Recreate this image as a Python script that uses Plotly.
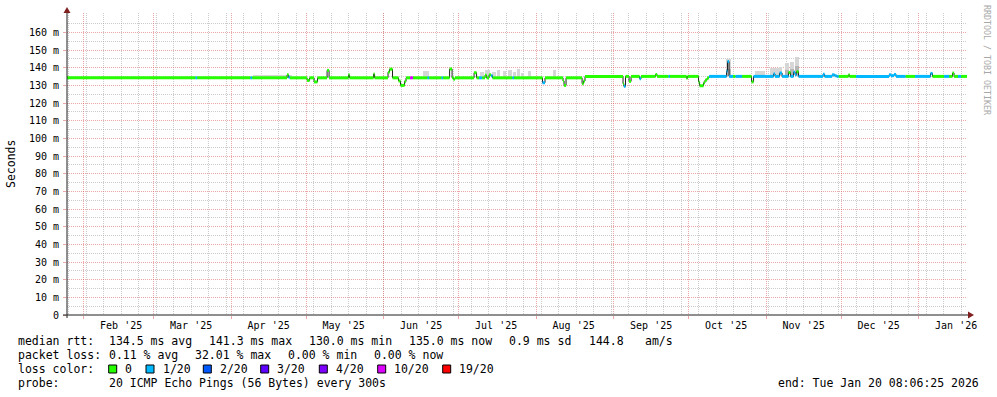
import pandas as pd
import plotly.graph_objects as go

# ---------------- data ----------------
START = "2025-01-25 08:06:25"
END = "2026-01-20 08:06:25"

# median rtt (ms) as step segments: start time, value, lost pings (of 20)
seg_start = [
    "2025-01-25 08:06", "2025-03-17 18:00", "2025-03-18 09:00", "2025-04-08 18:00", "2025-04-09 09:00",
    "2025-04-23 09:00", "2025-04-23 23:00", "2025-04-24 11:00", "2025-05-01 09:00", "2025-05-02 09:00",
    "2025-05-04 04:00", "2025-05-05 13:00", "2025-05-09 09:00", "2025-05-10 04:00", "2025-05-17 23:00",
    "2025-05-18 09:00", "2025-05-27 23:00", "2025-05-28 09:00", "2025-06-02 18:00", "2025-06-03 09:00",
    "2025-06-04 13:00", "2025-06-06 23:00", "2025-06-07 18:00", "2025-06-09 09:00", "2025-06-09 23:00",
    "2025-06-11 13:00", "2025-06-12 18:00", "2025-06-18 13:00", "2025-06-19 04:00", "2025-06-24 04:00",
    "2025-06-24 18:00", "2025-06-27 09:00", "2025-06-28 09:00", "2025-06-28 23:00", "2025-06-29 13:00",
    "2025-07-07 04:00", "2025-07-08 04:00", "2025-07-09 04:00", "2025-07-10 09:00", "2025-07-11 13:00",
    "2025-07-12 04:00", "2025-07-13 04:00", "2025-07-13 23:00", "2025-07-14 13:00", "2025-07-22 13:00",
    "2025-07-23 04:00", "2025-08-03 13:00", "2025-08-04 13:00", "2025-08-11 18:00", "2025-08-12 04:00",
    "2025-08-12 23:00", "2025-08-19 09:00", "2025-08-19 23:00", "2025-08-20 13:00", "2025-09-04 18:00",
    "2025-09-05 02:00", "2025-09-05 18:00", "2025-09-07 04:00", "2025-09-07 23:00", "2025-09-11 09:00",
    "2025-09-11 23:00", "2025-09-17 18:00", "2025-09-18 09:00", "2025-09-22 23:00", "2025-09-23 13:00",
    "2025-09-30 04:00", "2025-09-30 13:00", "2025-10-04 23:00", "2025-10-05 09:00", "2025-10-06 23:00",
    "2025-10-07 13:00", "2025-10-08 09:00", "2025-10-09 04:00", "2025-10-16 04:00", "2025-10-16 13:00",
    "2025-10-17 04:00", "2025-10-18 18:00", "2025-10-19 18:00", "2025-10-22 09:00", "2025-10-26 04:00",
    "2025-10-26 23:00", "2025-11-03 23:00", "2025-11-04 13:00", "2025-11-06 09:00", "2025-11-07 09:00",
    "2025-11-09 23:00", "2025-11-10 18:00", "2025-11-11 23:00", "2025-11-12 13:00", "2025-11-13 04:00",
    "2025-11-13 23:00", "2025-11-23 18:00", "2025-11-24 09:00", "2025-11-27 09:00", "2025-11-28 09:00",
    "2025-11-29 04:00", "2025-11-29 23:00", "2025-12-03 23:00", "2025-12-04 09:00", "2025-12-06 23:00",
    "2025-12-20 04:00", "2025-12-20 23:00", "2025-12-22 04:00", "2025-12-22 23:00", "2025-12-26 18:00",
    "2025-12-30 13:00", "2026-01-05 18:00", "2026-01-06 13:00", "2026-01-11 04:00", "2026-01-13 04:00",
    "2026-01-14 13:00", "2026-01-15 04:00", "2026-01-16 18:00", "2026-01-17 23:00",
]
seg_ms = [
    134.3, 134.3, 134.3, 134.3, 134.3,
    136.0, 134.6, 134.3, 132.8, 134.3,
    132.0, 134.3, 138.5, 134.3, 136.0,
    134.3, 136.5, 134.3, 137.5, 139.2,
    134.3, 132.5, 130.0, 132.3, 134.3,
    134.3, 134.3, 134.3, 134.3, 134.3,
    134.3, 139.3, 134.3, 133.5, 134.3,
    137.2, 134.3, 134.3, 134.3, 135.8,
    134.3, 136.0, 135.5, 134.3, 134.3,
    134.3, 131.5, 134.3, 132.5, 130.0,
    134.3, 131.0, 132.5, 135.1, 131.0,
    129.5, 135.1, 132.3, 135.1, 133.8,
    135.1, 136.2, 135.1, 135.1, 135.1,
    134.0, 135.1, 132.0, 129.8, 131.5,
    133.0, 134.2, 135.1, 138.0, 143.5,
    135.1, 135.1, 135.1, 135.1, 132.0,
    135.1, 136.5, 135.1, 137.0, 135.1,
    137.3, 135.1, 137.5, 136.0, 137.8,
    135.1, 136.3, 135.1, 136.0, 135.5,
    135.1, 135.1, 136.0, 135.1, 135.1,
    136.0, 135.5, 136.2, 135.1, 135.1,
    135.1, 136.8, 135.1, 135.1, 135.1,
    137.0, 135.1, 135.1, 135.1,
]
seg_loss = [
    0, 1, 0, 1, 0,
    0, 1, 0, 0, 0,
    0, 0, 0, 0, 0,
    0, 0, 0, 0, 0,
    0, 0, 0, 0, 0,
    10, 0, 1, 0, 1,
    0, 0, 0, 0, 0,
    0, 0, 1, 0, 0,
    0, 0, 1, 0, 1,
    0, 1, 0, 0, 0,
    0, 0, 0, 0, 0,
    1, 0, 0, 0, 1,
    0, 0, 0, 1, 0,
    0, 0, 0, 0, 0,
    0, 0, 1, 1, 1,
    1, 0, 1, 0, 0,
    1, 1, 1, 1, 1,
    0, 1, 1, 1, 0,
    1, 1, 1, 1, 1,
    1, 0, 0, 0, 1,
    1, 1, 1, 1, 0,
    1, 1, 0, 1, 0,
    0, 0, 1, 0,
]

# smoke (spread of the 20 pings): start, end, low ms, high ms, shade
smoke_start = [
    "2025-04-09 18:00", "2025-06-16 18:00", "2025-07-09 13:00", "2025-07-11 13:00", "2025-07-14 09:00",
    "2025-07-16 09:00", "2025-07-18 18:00", "2025-07-20 18:00", "2025-07-22 18:00", "2025-07-24 09:00",
    "2025-07-25 23:00", "2025-07-28 18:00", "2025-08-07 18:00", "2025-10-15 23:00", "2025-10-27 13:00",
    "2025-11-02 13:00", "2025-11-06 04:00", "2025-11-08 13:00", "2025-11-10 13:00", "2025-11-12 13:00",
    "2025-10-15 23:00", "2025-11-08 13:00", "2025-11-10 13:00", "2025-11-12 13:00",
]
smoke_end = [
    "2025-04-25 09:00", "2025-06-19 04:00", "2025-07-11 04:00", "2025-07-13 13:00", "2025-07-15 23:00",
    "2025-07-17 13:00", "2025-07-19 23:00", "2025-07-22 09:00", "2025-07-23 23:00", "2025-07-25 13:00",
    "2025-07-27 04:00", "2025-07-29 23:00", "2025-08-08 23:00", "2025-10-17 23:00", "2025-10-31 13:00",
    "2025-11-06 04:00", "2025-11-07 09:00", "2025-11-10 04:00", "2025-11-12 04:00", "2025-11-14 04:00",
    "2025-10-17 23:00", "2025-11-10 04:00", "2025-11-12 04:00", "2025-11-14 04:00",
]
smoke_lo = [
    134.3, 134.3, 134.3, 134.3, 134.3,
    134.3, 134.3, 134.3, 134.3, 134.3,
    134.3, 134.3, 134.3, 135.1, 135.1,
    135.1, 135.1, 135.1, 135.1, 135.1,
    135.1, 135.1, 135.1, 135.1,
]
smoke_hi = [
    135.7, 138.4, 137.5, 138.5, 137.8,
    139.0, 138.0, 139.0, 137.5, 139.2,
    137.0, 138.0, 138.5, 145.0, 138.2,
    140.0, 140.6, 142.5, 143.5, 146.0,
    139.5, 139.0, 139.5, 141.0,
]
smoke_shade = ["light"] * 20 + ["mid"] * 4

month_labels = ["Feb '25", "Mar '25", "Apr '25", "May '25", "Jun '25", "Jul '25",
                "Aug '25", "Sep '25", "Oct '25", "Nov '25", "Dec '25", "Jan '26"]
month_starts = ["2025-02-01", "2025-03-01", "2025-04-01", "2025-05-01", "2025-06-01", "2025-07-01",
                "2025-08-01", "2025-09-01", "2025-10-01", "2025-11-01", "2025-12-01", "2026-01-01"]
y_ticks = list(range(0, 170, 10))
y_ticktext = ["0"] + [f"{v} m" for v in y_ticks[1:]]

loss_levels = [0, 1, 2, 3, 4, 10, 19]
loss_names = ["0", "1/20", "2/20", "3/20", "4/20", "10/20", "19/20"]
loss_colors = ["#26ff00", "#00b8ff", "#0059ff", "#5e00ff", "#7e00ff", "#dd00ff", "#ff0000"]

legend_rows = [
    ("median rtt:", [(107.3, "134.5 ms avg"), (207.3, "141.3 ms max"), (306.7, "130.0 ms min"),
                     (407.3, "135.0 ms now"), (506.7, "0.9 ms sd"), (586.7, "144.8"), (642.7, "am/s")]),
    ("packet loss:", [(107.3, "0.11 % avg"), (193.3, "32.01 % max"), (286.0, "0.00 % min"),
                      (372.3, "0.00 % now")]),
    ("probe:", [(107.3, "20 ICMP Echo Pings (56 Bytes) every 300s")]),
]
end_text = "end: Tue Jan 20 08:06:25 2026"

# ---------------- geometry helpers ----------------
W, H = 997, 397
L, R, T, B = 67, 30, 13, 82
PW, PH = W - L - R, H - T - B


def px(x):
    return (x - L) / PW


def py(y):
    return (T + PH - y) / PH


MGRID = "rgba(222,79,79,0.5)"
GRID = "rgba(143,143,143,0.45)"
FONT = "DejaVu Sans Mono, monospace"

fig = go.Figure()

# smoke
shade_col = {"light": "#d6d6d6", "mid": "#b4b4b4"}
for shade in ["light", "mid"]:
    xs, ys, bs, ws = [], [], [], []
    for s, e, lo, hi, sh in zip(smoke_start, smoke_end, smoke_lo, smoke_hi, smoke_shade):
        if sh != shade:
            continue
        t0, t1 = pd.Timestamp(s), pd.Timestamp(e)
        xs.append(t0 + (t1 - t0) / 2)
        ws.append((t1 - t0).total_seconds() * 1000)
        bs.append(lo)
        ys.append(hi - lo)
    fig.add_trace(go.Bar(x=xs, y=ys, base=bs, width=ws, marker=dict(color=shade_col[shade], line=dict(width=0)),
                         showlegend=False, hoverinfo="skip"))

# black median line
bx = seg_start + [END]
by = seg_ms + [seg_ms[-1]]
fig.add_trace(go.Scatter(x=bx, y=by, mode="lines", line=dict(color="#202020", width=1, shape="hv"),
                         showlegend=False, hoverinfo="skip"))

# loss coloured band
ends = seg_start[1:] + [END]
for lvl, col in zip(loss_levels, loss_colors):
    xs, ys = [], []
    for s, e, v, lo in zip(seg_start, ends, seg_ms, seg_loss):
        if lo == lvl:
            xs += [s, e, None]
            ys += [v, v, None]
    if xs:
        fig.add_trace(go.Scatter(x=xs, y=ys, mode="lines", line=dict(color=col, width=3),
                                 showlegend=False, hoverinfo="skip", connectgaps=False))

# dummy trace for label axis
label_pos = [(pd.Timestamp(m) + pd.Timedelta(days=15)).strftime("%Y-%m-%d") for m in month_starts]
fig.add_trace(go.Scatter(x=[START, END], y=[None, None], xaxis="x2", showlegend=False, hoverinfo="skip"))

fig.update_layout(
    width=W, height=H,
    margin=dict(l=L, r=R, t=T, b=B, pad=0),
    paper_bgcolor="white", plot_bgcolor="white",
    barmode="overlay", bargap=0,
    showlegend=False,
    font=dict(family=FONT, size=10, color="black"),
    xaxis=dict(
        type="date", range=[START, END],
        tickvals=month_starts, ticktext=[""] * len(month_starts),
        showgrid=True, gridcolor=MGRID, griddash="1px,1px", gridwidth=1,
        ticks="outside", ticklen=3, tickcolor=MGRID,
        minor=dict(dtick=7 * 86400000, tick0="2025-01-26", showgrid=True, gridcolor=GRID,
                   griddash="1px,1px", ticks="", gridwidth=1),
        showline=False, zeroline=False,
    ),
    xaxis2=dict(
        type="date", range=[START, END], overlaying="x", side="bottom", anchor="y",
        tickvals=label_pos, ticktext=month_labels, showgrid=False, ticks="",
        showline=False, zeroline=False, tickfont=dict(size=10, family=FONT),
        ticklabelstandoff=3,
    ),
    yaxis=dict(
        range=[0, 171], tickvals=y_ticks, ticktext=y_ticktext,
        showgrid=True, gridcolor=MGRID, griddash="1px,1px", gridwidth=1,
        ticks="outside", ticklen=3, tickcolor=MGRID,
        minor=dict(tickvals=[v + 5 for v in y_ticks], showgrid=True, gridcolor=GRID,
                   griddash="1px,1px", ticks=""),
        showline=False, zeroline=False, tickfont=dict(size=10, family=FONT),
        ticklabelstandoff=2,
    ),
)

AX = "#1f1f1f"
ARROW = "#7f1f1f"
shapes = [
    dict(type="line", xref="paper", yref="paper", x0=px(63), x1=px(969), y0=0, y1=0,
         line=dict(color=AX, width=1)),
    dict(type="line", xref="paper", yref="paper", x0=0, x1=0, y0=py(318), y1=py(12),
         line=dict(color=AX, width=1)),
    dict(type="path", xref="paper", yref="paper",
         path=f"M {px(968)} {py(311.5)} L {px(974)} {py(315)} L {px(968)} {py(318.5)} Z",
         fillcolor=ARROW, line=dict(width=0)),
    dict(type="path", xref="paper", yref="paper",
         path=f"M {px(63.5)} {py(13)} L {px(67)} {py(7)} L {px(70.5)} {py(13)} Z",
         fillcolor=ARROW, line=dict(width=0)),
]

ann = []
LF = dict(family=FONT, size=11.5, color="black")
row_y = [340.7, 355.3, 383.3]
for (title, items), yy in zip(legend_rows, row_y):
    ann.append(dict(x=px(16), y=py(yy), text=title, xanchor="left", yanchor="middle"))
    for xx, txt in items:
        ann.append(dict(x=px(xx), y=py(yy), text=txt, xanchor="left", yanchor="middle"))
ann.append(dict(x=px(16), y=py(369), text="loss color:", xanchor="left", yanchor="middle"))
sq_x = [108.7, 146.0, 203.3, 260.7, 319.3, 377.7, 442.7]
for sx, name, col in zip(sq_x, loss_names, loss_colors):
    shapes.append(dict(type="rect", xref="paper", yref="paper", x0=px(sx), x1=px(sx + 8),
                       y0=py(373), y1=py(365), fillcolor=col, line=dict(color="black", width=1)))
    ann.append(dict(x=px(sx + 14.6), y=py(369), text=name, xanchor="left", yanchor="middle"))
ann.append(dict(x=px(981), y=py(383.3), text=end_text, xanchor="right", yanchor="middle"))
for a in ann:
    a.update(xref="paper", yref="paper", showarrow=False, font=LF)

ann.append(dict(x=px(11), y=py(164), text="Seconds", textangle=-90, xref="paper", yref="paper",
                showarrow=False, font=LF, xanchor="center", yanchor="middle"))
ann.append(dict(x=px(987), y=py(60), text="RRDTOOL / TOBI OETIKER", textangle=90, xref="paper",
                yref="paper", showarrow=False, font=dict(family=FONT, size=8.3, color="#a8a8a8"),
                xanchor="center", yanchor="middle"))

fig.update_layout(shapes=shapes, annotations=ann)
fig.write_html("out.html", config={"displayModeBar": False},
               post_script="document.body.style.margin='0';document.body.style.padding='0';")
